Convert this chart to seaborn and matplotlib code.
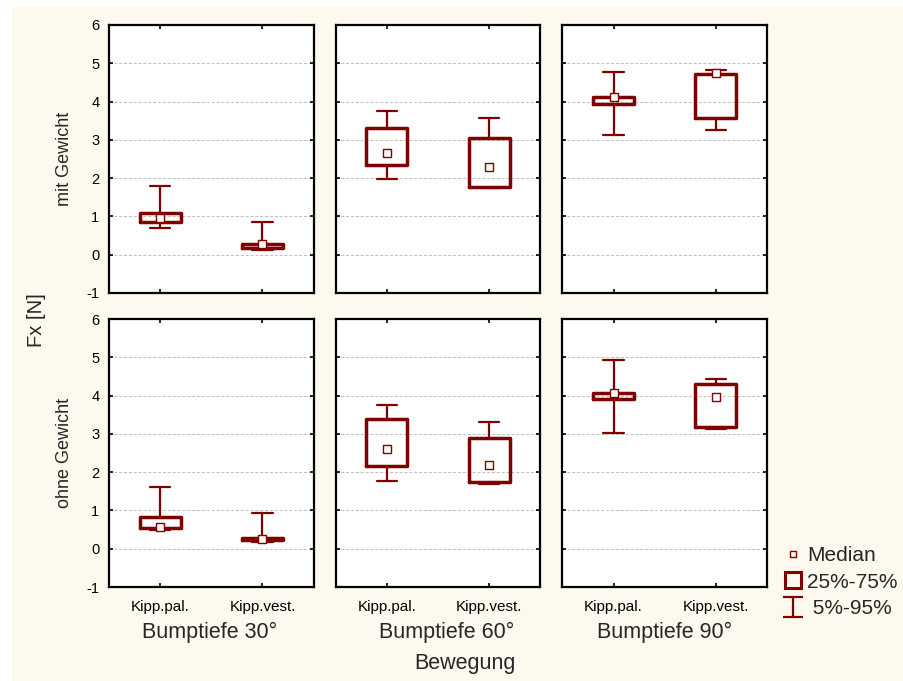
"""
Box summary of Fx [N] per Bumptiefe / Bewegung, with and without weight.
Boxes are drawn from read-off percentile values (5/25/50/75/95).
"""

import numpy as np
import pandas as pd
import matplotlib.pyplot as plt
import seaborn as sns
from matplotlib.lines import Line2D
from matplotlib.patches import Rectangle
from matplotlib.path import Path

sns.set_theme(style="white")
plt.rcParams["font.family"] = ["Liberation Sans", "DejaVu Sans"]
plt.rcParams["axes.unicode_minus"] = False

rows = ["mit Gewicht", "ohne Gewicht"]
depths = ["Bumptiefe 30°", "Bumptiefe 60°", "Bumptiefe 90°"]
movements = ["Kipp.pal.", "Kipp.vest."]

# order inside each row: 30 pal, 30 vest, 60 pal, 60 vest, 90 pal, 90 vest
p05 = [[0.71, 0.13, 1.98, 1.73, 3.13, 3.25],
       [0.49, 0.18, 1.77, 1.68, 3.03, 3.12]]
q25 = [[0.85, 0.18, 2.34, 1.76, 3.93, 3.58],
       [0.54, 0.23, 2.15, 1.74, 3.90, 3.17]]
median = [[0.95, 0.27, 2.66, 2.30, 4.12, 4.75],
          [0.57, 0.25, 2.61, 2.19, 4.08, 3.97]]
q75 = [[1.08, 0.29, 3.30, 3.06, 4.11, 4.73],
       [0.83, 0.27, 3.40, 2.89, 4.08, 4.29]]
p95 = [[1.79, 0.86, 3.76, 3.58, 4.77, 4.83],
       [1.61, 0.93, 3.76, 3.32, 4.94, 4.42]]

RED = "#800000"
CREAM = "#fef9ee"
W, H = 904, 681

records = []
for r, row in enumerate(rows):
    for c, depth in enumerate(depths):
        for m, mv in enumerate(movements):
            i = 2 * c + m
            records.append({"row": row, "depth": depth, "movement": mv, "pos": m,
                            "p05": p05[r][i], "q25": q25[r][i], "median": median[r][i],
                            "q75": q75[r][i], "p95": p95[r][i]})
df = pd.DataFrame(records)

fig, axes = plt.subplots(2, 3, figsize=(W / 100, H / 100), dpi=100, sharey=True)
fig.patch.set_facecolor(CREAM)
# white margin strips on the left and top
fig.add_artist(Rectangle((0, 0), 12 / W, 1, transform=fig.transFigure,
                         facecolor="white", edgecolor="none", zorder=-10))
fig.add_artist(Rectangle((0, 1 - 7 / H), 1, 7 / H, transform=fig.transFigure,
                         facecolor="white", edgecolor="none", zorder=-10))
fig.subplots_adjust(left=109 / W, right=767 / W, top=1 - 25 / H, bottom=1 - 587 / H,
                    wspace=22 / 204, hspace=26 / 268)

for r, row in enumerate(rows):
    for c, depth in enumerate(depths):
        ax = axes[r, c]
        ax.set_facecolor("white")
        sub = df[(df["row"] == row) & (df["depth"] == depth)]
        stats = [dict(whislo=s.p05, q1=s.q25, med=s.median, q3=s.q75, whishi=s.p95,
                      label=s.movement) for s in sub.itertuples()]
        ax.bxp(stats, positions=sub["pos"].tolist(), widths=0.4, capwidths=0.2,
               showfliers=False,
               boxprops=dict(color=RED, lw=2.5),
               whiskerprops=dict(color=RED, lw=1.6),
               capprops=dict(color=RED, lw=1.6),
               medianprops=dict(lw=0))
        sns.scatterplot(data=sub, x="pos", y="median", marker="s", s=28, color="white",
                        edgecolor=RED, linewidth=1.0, ax=ax, zorder=5, legend=False)

        ax.set_xlim(-0.5, 1.5)
        ax.set_ylim(-1, 6)
        ax.set_yticks(np.arange(-1, 7))
        ax.set_xticks([0, 1])
        ax.set_xticklabels(movements)
        ax.set_xlabel("")
        ax.set_ylabel("")
        ax.yaxis.grid(True, ls=(0, (3, 2)), color="#bdbdbd", lw=0.7)
        ax.set_axisbelow(True)
        ax.tick_params(direction="in", length=3, width=1.2, color="black",
                       top=True, right=True, bottom=True, left=True,
                       labelcolor="black")
        ax.tick_params(axis="x", pad=9, labelsize=11)
        ax.tick_params(axis="y", pad=7, labelsize=10.5)
        if r == 0:
            ax.tick_params(labelbottom=False)
        for sp in ax.spines.values():
            sp.set_color("black")
            sp.set_linewidth(1.6)

# axis / facet titles
col_centers = [210, 447, 665]
for c, depth in enumerate(depths):
    fig.text(col_centers[c] / W, 1 - 632 / H, depth, ha="center", va="center", fontsize=15.5)
fig.text(465 / W, 1 - 663 / H, "Bewegung", ha="center", va="center", fontsize=15.5)
fig.text(37 / W, 1 - 320 / H, "Fx [N]", ha="center", va="center", rotation=90, fontsize=14.5)
for r, yc in enumerate([159, 453]):
    fig.text(65 / W, 1 - yc / H, rows[r], ha="center", va="center", rotation=90, fontsize=13)

# legend
whisker_marker = Path([(-1, 1), (1, 1), (0, 1), (0, -1), (-1, -1), (1, -1)],
                      [Path.MOVETO, Path.LINETO, Path.MOVETO, Path.LINETO,
                       Path.MOVETO, Path.LINETO])
handles = [
    Line2D([], [], ls="none", marker="s", markersize=5, markerfacecolor="white",
           markeredgecolor=RED, markeredgewidth=1.0),
    Line2D([], [], ls="none", marker="s", markersize=12, markerfacecolor="none",
           markeredgecolor=RED, markeredgewidth=2.2),
    Line2D([], [], ls="none", marker=whisker_marker, markersize=15, markerfacecolor="none",
           markeredgecolor=RED, markeredgewidth=1.6),
]
fig.legend(handles, ["Median", "25%-75%", " 5%-95%"], loc="center left",
           bbox_to_anchor=(772 / W, 1 - 582 / H), frameon=False, fontsize=15,
           handlelength=1.0, handletextpad=0.2, labelspacing=0.35, borderpad=0)

fig.savefig("out.png", dpi=100)
